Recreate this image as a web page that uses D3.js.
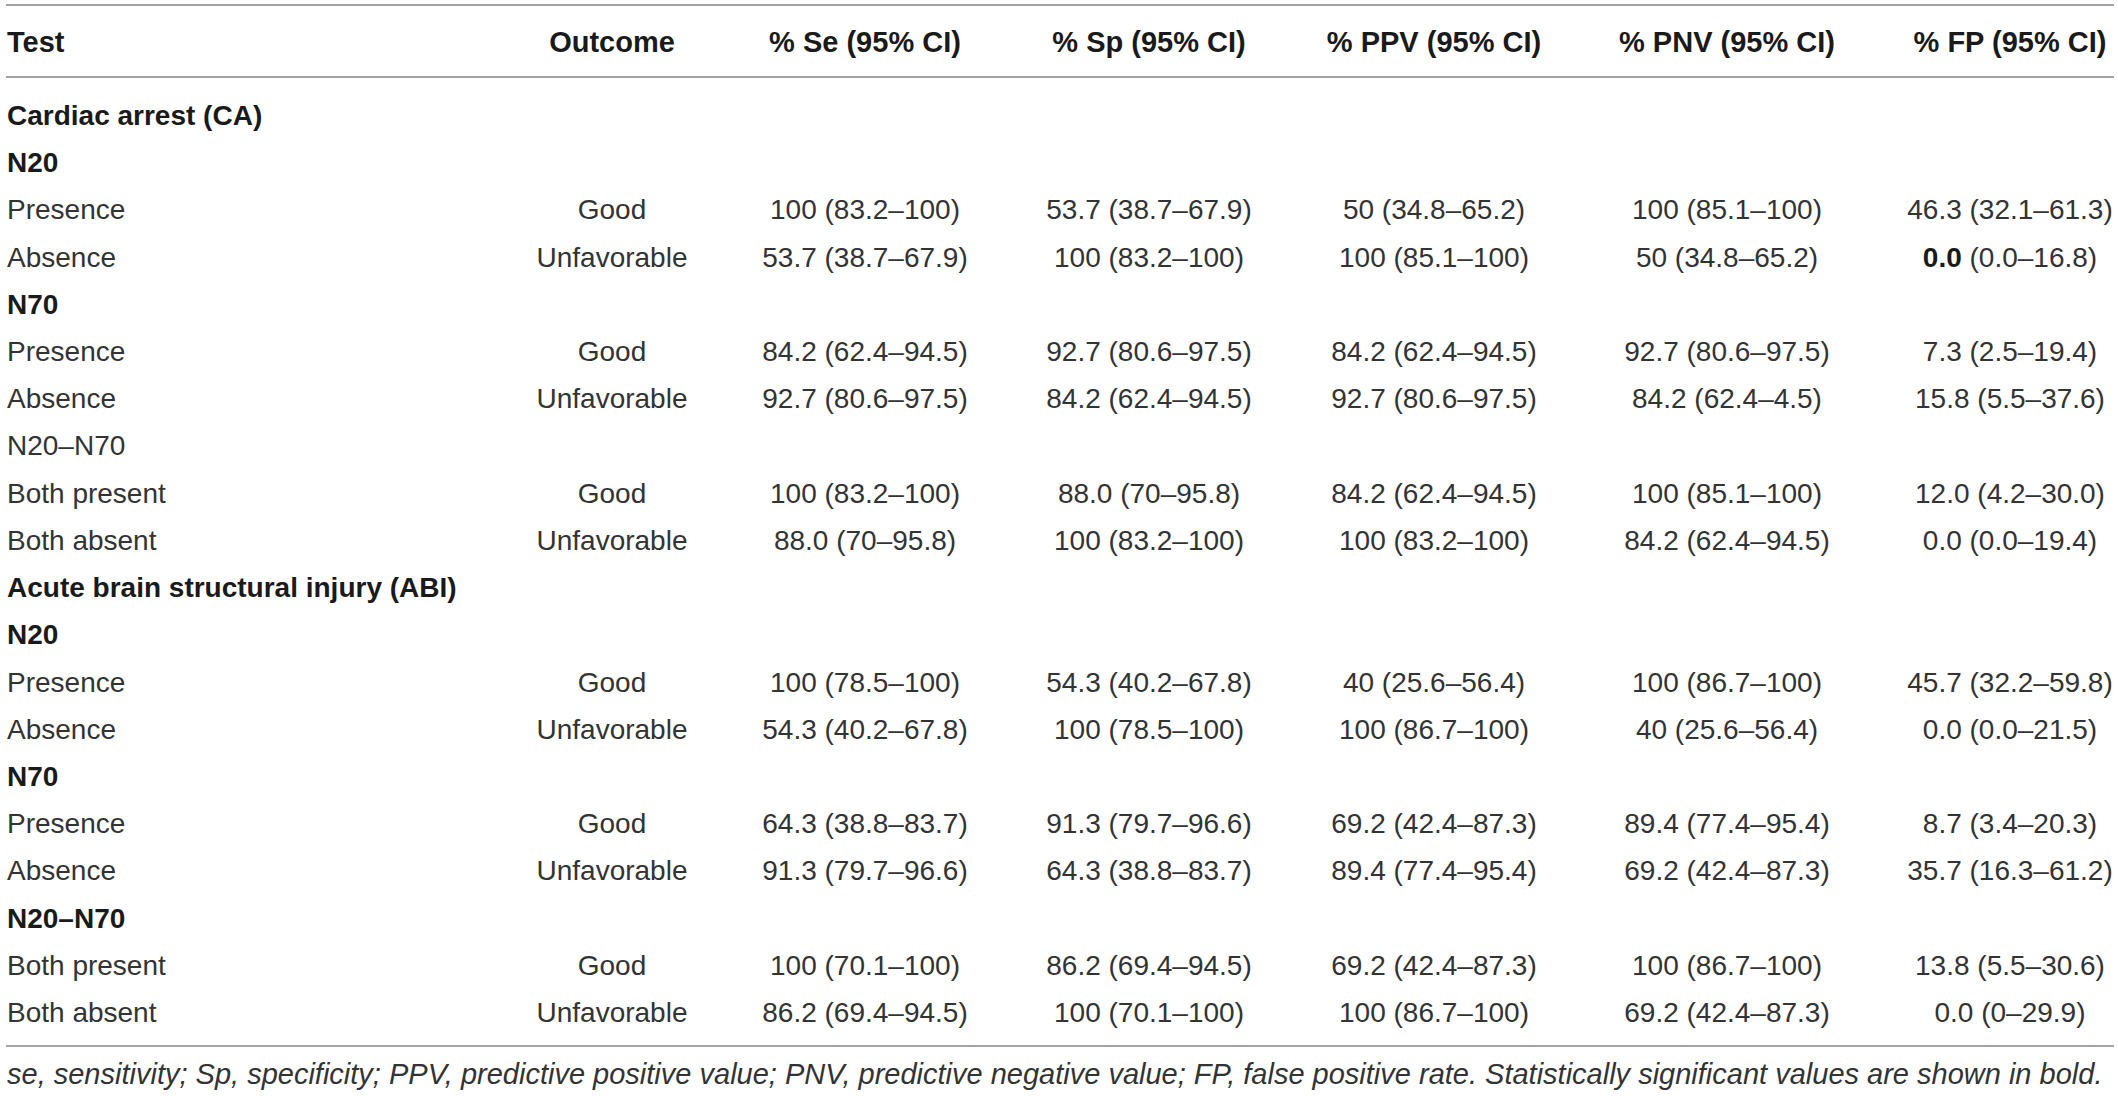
<!DOCTYPE html>
<html>
<head>
<meta charset="utf-8">
<script src="https://cdn.jsdelivr.net/npm/d3@7"></script>
<style>
  body { margin: 0; background: #fff; }
  svg text { font-family: "Liberation Sans", Arial, Helvetica, sans-serif; }
</style>
</head>
<body>
<svg id="tbl"></svg>
<script>
var W = 2118, H = 1096;

// header labels
var headers = ['Test', 'Outcome', '% Se (95% CI)', '% Sp (95% CI)', '% PPV (95% CI)', '% PNV (95% CI)', '% FP (95% CI)'];
var colKeys = ['outcome', 'se', 'sp', 'ppv', 'pnv', 'fp'];

// first column: row labels, kind = section (bold) / plain
var testLabels = ['Cardiac arrest (CA)', 'N20', 'Presence', 'Absence', 'N70', 'Presence', 'Absence', 'N20\u2013N70', 'Both present', 'Both absent',
  'Acute brain structural injury (ABI)', 'N20', 'Presence', 'Absence', 'N70', 'Presence', 'Absence', 'N20\u2013N70', 'Both present', 'Both absent'];
var boldLabel = [1, 1, 0, 0, 1, 0, 0, 0, 0, 0, 1, 1, 0, 0, 1, 0, 0, 1, 0, 0];

var outcome = [null, null, 'Good', 'Unfavorable', null, 'Good', 'Unfavorable', null, 'Good', 'Unfavorable',
  null, null, 'Good', 'Unfavorable', null, 'Good', 'Unfavorable', null, 'Good', 'Unfavorable'];
var se = [null, null, '100 (83.2\u2013100)', '53.7 (38.7\u201367.9)', null, '84.2 (62.4\u201394.5)', '92.7 (80.6\u201397.5)', null, '100 (83.2\u2013100)', '88.0 (70\u201395.8)',
  null, null, '100 (78.5\u2013100)', '54.3 (40.2\u201367.8)', null, '64.3 (38.8\u201383.7)', '91.3 (79.7\u201396.6)', null, '100 (70.1\u2013100)', '86.2 (69.4\u201394.5)'];
var sp = [null, null, '53.7 (38.7\u201367.9)', '100 (83.2\u2013100)', null, '92.7 (80.6\u201397.5)', '84.2 (62.4\u201394.5)', null, '88.0 (70\u201395.8)', '100 (83.2\u2013100)',
  null, null, '54.3 (40.2\u201367.8)', '100 (78.5\u2013100)', null, '91.3 (79.7\u201396.6)', '64.3 (38.8\u201383.7)', null, '86.2 (69.4\u201394.5)', '100 (70.1\u2013100)'];
var ppv = [null, null, '50 (34.8\u201365.2)', '100 (85.1\u2013100)', null, '84.2 (62.4\u201394.5)', '92.7 (80.6\u201397.5)', null, '84.2 (62.4\u201394.5)', '100 (83.2\u2013100)',
  null, null, '40 (25.6\u201356.4)', '100 (86.7\u2013100)', null, '69.2 (42.4\u201387.3)', '89.4 (77.4\u201395.4)', null, '69.2 (42.4\u201387.3)', '100 (86.7\u2013100)'];
var pnv = [null, null, '100 (85.1\u2013100)', '50 (34.8\u201365.2)', null, '92.7 (80.6\u201397.5)', '84.2 (62.4\u20134.5)', null, '100 (85.1\u2013100)', '84.2 (62.4\u201394.5)',
  null, null, '100 (86.7\u2013100)', '40 (25.6\u201356.4)', null, '89.4 (77.4\u201395.4)', '69.2 (42.4\u201387.3)', null, '100 (86.7\u2013100)', '69.2 (42.4\u201387.3)'];
var fp = [null, null, '46.3 (32.1\u201361.3)', '0.0 (0.0\u201316.8)', null, '7.3 (2.5\u201319.4)', '15.8 (5.5\u201337.6)', null, '12.0 (4.2\u201330.0)', '0.0 (0.0\u201319.4)',
  null, null, '45.7 (32.2\u201359.8)', '0.0 (0.0\u201321.5)', null, '8.7 (3.4\u201320.3)', '35.7 (16.3\u201361.2)', null, '13.8 (5.5\u201330.6)', '0.0 (0\u201329.9)'];

// cells whose point estimate is shown in bold
var boldCells = [{ row: 3, col: 'fp' }];

var footnote = 'se, sensitivity; Sp, specificity; PPV, predictive positive value; PNV, predictive negative value; FP, false positive rate. Statistically significant values are shown in bold.';

var series = { outcome: outcome, se: se, sp: sp, ppv: ppv, pnv: pnv, fp: fp };

var ink = '#333', dark = '#1a1a1a', rule = '#a3a3a3', fs = 28;

var svg = d3.select('#tbl').attr('width', W).attr('height', H);
svg.append('rect').attr('width', W).attr('height', H).attr('fill', '#fff');

// column centres and row baselines
var x = d3.scaleOrdinal().domain(colKeys).range([612, 865, 1149, 1434, 1727, 2010]);
var y = d3.scaleLinear().domain([0, testLabels.length - 1]).range([125, 1022]);
var left = 7;

// rules
[5, 77, 1046].forEach(function(ry) {
  svg.append('line')
    .attr('x1', 6).attr('x2', 2114)
    .attr('y1', ry).attr('y2', ry)
    .attr('stroke', rule).attr('stroke-width', 2);
});

// header
var hdr = svg.append('g').attr('font-weight', 'bold').attr('font-size', 29).attr('fill', dark);
hdr.append('text').attr('x', left).attr('y', 52).text(headers[0]);
hdr.selectAll('text.h').data(colKeys).enter().append('text')
  .attr('class', 'h')
  .attr('x', function(d) { return x(d); })
  .attr('y', 52)
  .attr('text-anchor', 'middle')
  .text(function(d, i) { return headers[i + 1]; });

// first column
svg.append('g').selectAll('text').data(testLabels).enter().append('text')
  .attr('x', left)
  .attr('y', function(d, i) { return y(i); })
  .attr('font-size', fs)
  .attr('font-weight', function(d, i) { return boldLabel[i] ? 'bold' : 'normal'; })
  .attr('fill', function(d, i) { return boldLabel[i] ? dark : ink; })
  .text(function(d) { return d; });

// value cells
var cells = [];
colKeys.forEach(function(k) {
  series[k].forEach(function(v, i) {
    if (v !== null) cells.push({ col: k, row: i, txt: v });
  });
});

var isBold = function(d) {
  return boldCells.some(function(b) { return b.row === d.row && b.col === d.col; });
};

var ct = svg.append('g').selectAll('text').data(cells).enter().append('text')
  .attr('x', function(d) { return x(d.col); })
  .attr('y', function(d) { return y(d.row); })
  .attr('text-anchor', 'middle')
  .attr('font-size', fs)
  .attr('fill', ink);

ct.each(function(d) {
  var t = d3.select(this);
  if (isBold(d)) {
    var cut = d.txt.indexOf(' ');
    t.append('tspan').attr('font-weight', 'bold').attr('fill', dark).text(d.txt.slice(0, cut));
    t.append('tspan').text(d.txt.slice(cut));
  } else {
    t.text(d.txt);
  }
});

// footnote
svg.append('text')
  .attr('x', left).attr('y', 1084)
  .attr('font-size', 29)
  .attr('font-style', 'italic')
  .attr('fill', ink)
  .text(footnote);
</script>
</body>
</html>
